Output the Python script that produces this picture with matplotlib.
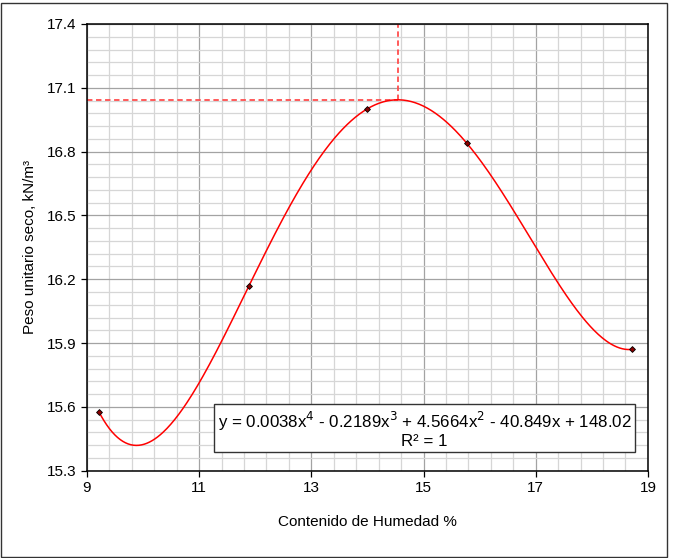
import numpy as np
import matplotlib.pyplot as plt
from matplotlib.patches import Rectangle

plt.rcParams['font.family'] = ['Liberation Sans', 'DejaVu Sans']

# compaction test points
humedad = [9.21, 11.89, 13.99, 15.77, 18.71]
peso = [15.578, 16.17, 17.00, 16.84, 15.87]

x_ticks = [9, 11, 13, 15, 17, 19]
y_ticks = [15.3, 15.6, 15.9, 16.2, 16.5, 16.8, 17.1, 17.4]

eq_text = "y = 0.0038x$^4$ - 0.2189x$^3$ + 4.5664x$^2$ - 40.849x + 148.02\nR² = 1"

# 4th order trend line through the points
coef = np.polyfit(humedad, peso, 4)
xs = np.linspace(humedad[0], humedad[-1], 400)
ys = np.polyval(coef, xs)
i_max = np.argmax(ys)
x_opt, y_opt = xs[i_max], ys[i_max]

fig = plt.figure(figsize=(6.77, 5.58), dpi=100)
ax = fig.add_axes([0.1285, 0.1565, 0.8285, 0.8005])

# outer chart border
fig.patches.append(Rectangle((0.0015, 0.0015), 0.984, 0.9935, transform=fig.transFigure,
                             fill=False, edgecolor='#333333', linewidth=1.0))

ax.plot(xs, ys, color='red', linewidth=1.1, zorder=3)
ax.plot(humedad, peso, linestyle='none', marker='D', markersize=3,
        markerfacecolor='#8b0000', markeredgecolor='black', markeredgewidth=0.6, zorder=4)

# optimum lines
ax.plot([9, x_opt], [y_opt, y_opt], color='#ff4d4d', linestyle=(0, (3, 2)), linewidth=1.3, zorder=2)
ax.plot([x_opt, x_opt], [y_opt, 17.4], color='#ff4d4d', linestyle=(0, (3, 2)), linewidth=1.3, zorder=2)

ax.set_xlim(9, 19)
ax.set_ylim(15.3, 17.4)
ax.set_xticks(x_ticks)
ax.set_xticklabels([str(v) for v in x_ticks])
ax.set_yticks(y_ticks)
ax.set_yticklabels([f"{v:.1f}" for v in y_ticks])
ax.set_xticks(np.linspace(9, 19, 26), minor=True)
ax.set_yticks(np.linspace(15.3, 17.4, 36), minor=True)
ax.grid(which='minor', color='#d6d6d6', linewidth=0.9)
ax.grid(which='major', color='#a3a3a3', linewidth=0.9)
ax.set_axisbelow(True)

ax.tick_params(which='major', direction='out', length=4, width=0.9, labelsize=11, color='black')
ax.tick_params(which='minor', length=0)
for s in ax.spines.values():
    s.set_color('black')
    s.set_linewidth(1.1)

ax.set_xlabel("Contenido de Humedad %", fontsize=11, labelpad=14)
ax.set_ylabel("Peso unitario seco, kN/m³", fontsize=11, labelpad=7)

ax.text(15.02, 15.495, eq_text, ha='center', va='center', fontsize=12.2, linespacing=1.05,
        bbox=dict(boxstyle='square,pad=0.2', facecolor='white', edgecolor='#333333', linewidth=1.0),
        zorder=5)

fig.savefig('out.png', dpi=100)
